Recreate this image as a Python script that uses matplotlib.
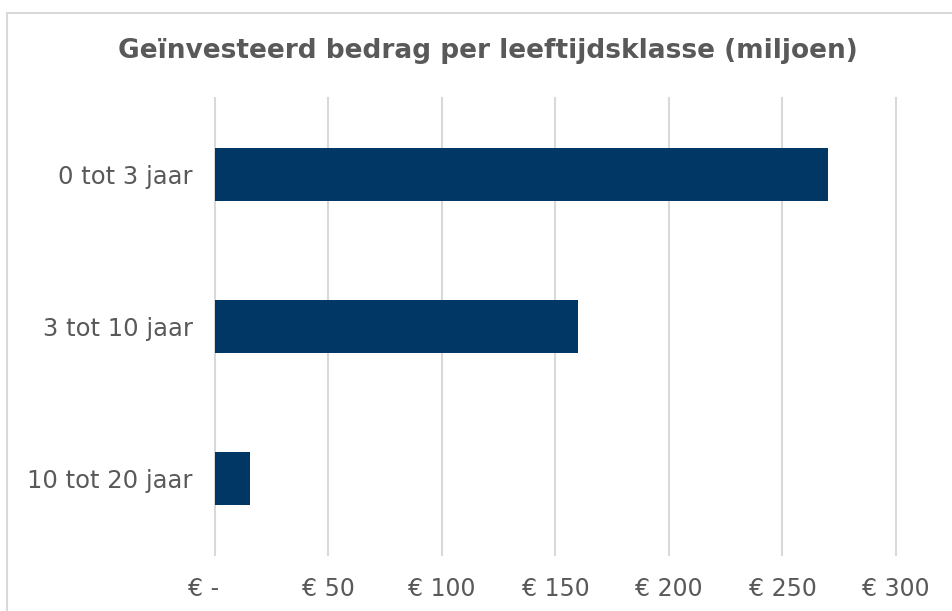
import matplotlib.pyplot as plt
from matplotlib.lines import Line2D

categories = ["0 tot 3 jaar", "3 tot 10 jaar", "10 tot 20 jaar"]
values = [270, 160, 15.5]
tick_values = [0, 50, 100, 150, 200, 250, 300]
tick_labels = ["€ -   ", "€ 50", "€ 100", "€ 150", "€ 200", "€ 250", "€ 300"]

W, H = 953, 611
text_color = "#595959"
bar_color = "#003764"
grid_color = "#d9d9d9"


def main() -> None:
    plt.rcParams["font.family"] = ["DejaVu Sans"]
    fig = plt.figure(figsize=(W / 100, H / 100), dpi=100)

    # axes in pixel box: x 215..896, y 98..555
    ax = fig.add_axes([215 / W, 1 - 555 / H, (896 - 215) / W, (555 - 98) / H])
    pos = list(range(len(categories)))
    ax.barh(pos, values, height=0.35, color=bar_color, zorder=3)
    ax.set_ylim(len(categories) - 0.5, -0.5)
    ax.set_xlim(0, 300)
    ax.set_xticks(tick_values)
    ax.set_xticklabels(tick_labels)
    ax.set_yticks(pos)
    ax.set_yticklabels(categories)
    ax.grid(axis="x", color=grid_color, linewidth=1.5, zorder=0)
    for line in ax.get_xgridlines():
        line.set_clip_on(False)
    for s in ax.spines.values():
        s.set_visible(False)
    ax.tick_params(axis="both", length=0, colors=text_color)
    ax.tick_params(axis="x", labelsize=17, pad=16)
    ax.tick_params(axis="y", labelsize=17.5, pad=16)

    fig.text(488 / W, 1 - 51 / H, "Geïnvesteerd bedrag per leeftijdsklasse (miljoen)",
             ha="center", va="center", fontsize=19, fontweight="bold", color=text_color)

    # chart border (top and left edges visible)
    fig.add_artist(Line2D([7.5 / W, 1], [1 - 12.5 / H, 1 - 12.5 / H],
                          transform=fig.transFigure, color=grid_color, linewidth=1.5))
    fig.add_artist(Line2D([7.5 / W, 7.5 / W], [0, 1 - 12.5 / H],
                          transform=fig.transFigure, color=grid_color, linewidth=1.5))

    fig.savefig("out.png", dpi=100)


if __name__ == "__main__":
    main()
